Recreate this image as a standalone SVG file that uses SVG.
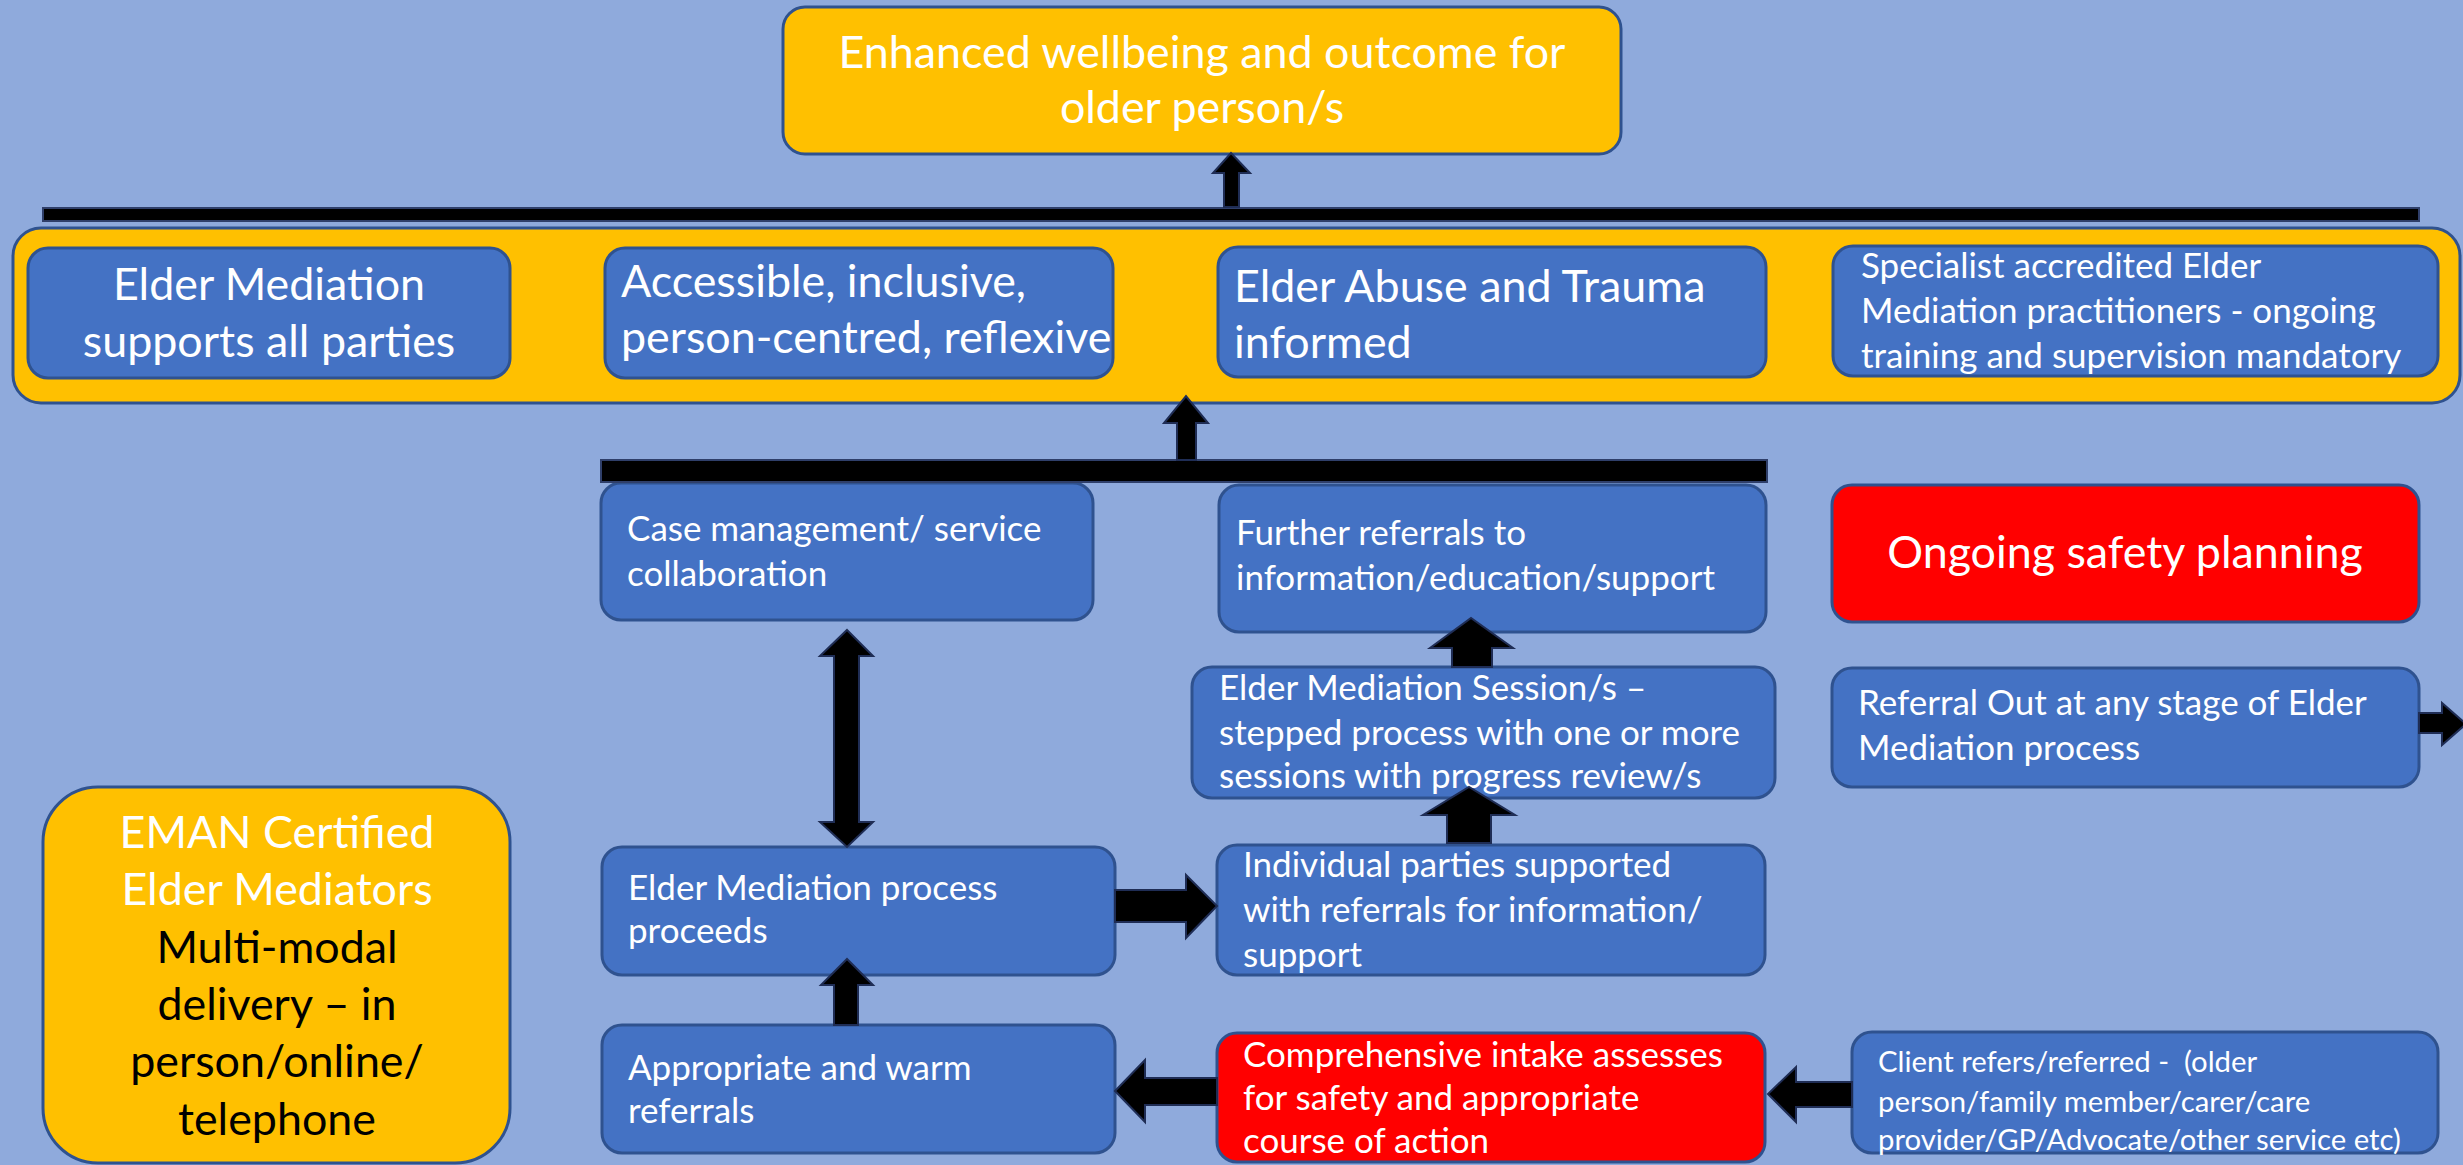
<svg xmlns="http://www.w3.org/2000/svg" width="2463" height="1165" viewBox="0 0 2463 1165">
  <style>
    .box { fill: #4472C4; stroke: #2F528F; stroke-width: 3; }
    .gold { fill: #FFC000; stroke: #2F528F; stroke-width: 3; }
    .red { fill: #FF0000; stroke: #2F528F; stroke-width: 3; }
    .bar { fill: #000000; stroke: #2F3F6A; stroke-width: 2; }
    .arrow { fill: #000000; stroke: #1F2D55; stroke-width: 2; stroke-linejoin: miter; }
    text { font-family: Lato, "Liberation Sans", sans-serif; fill: #FFFFFF; }
    .big { font-size: 44.8px; }
    .med { font-size: 35px; }
    .sm { font-size: 29.3px; }
    .mid { text-anchor: middle; }
    .dark { fill: #000000; }
  </style>

  <!-- page background -->
  <rect x="0" y="0" width="2463" height="1165" fill="#8FAADC"/>

  <!-- outcome at the top -->
  <g id="outcome">
    <rect class="gold" x="783" y="7" width="838" height="147" rx="22"/>
    <text class="big mid" x="1202" y="68">Enhanced wellbeing and outcome for</text>
    <text class="big mid" x="1202" y="123">older person/s</text>
  </g>

  <!-- principles band -->
  <g id="principles">
    <rect class="gold" x="13" y="228" width="2447" height="175" rx="28"/>
  </g>
  <g id="supports-all-parties">
    <rect class="box" x="28" y="248" width="482" height="130" rx="20"/>
    <text class="big mid" x="269" y="300">Elder Mediation</text>
    <text class="big mid" x="269" y="357">supports all parties</text>
  </g>
  <g id="accessible">
    <rect class="box" x="605" y="248" width="508" height="130" rx="20"/>
    <text class="big" x="621" y="297">Accessible, inclusive,</text>
    <text class="big" x="621" y="353">person-centred, reflexive</text>
  </g>
  <g id="trauma-informed">
    <rect class="box" x="1218" y="247" width="548" height="130" rx="20"/>
    <text class="big" x="1234" y="302">Elder Abuse and Trauma</text>
    <text class="big" x="1234" y="358">informed</text>
  </g>
  <g id="specialist-practitioners">
    <rect class="box" x="1833" y="246" width="605" height="130" rx="20"/>
    <text class="med" x="1861" y="278">Specialist accredited Elder</text>
    <text class="med" x="1861" y="323">Mediation practitioners - ongoing</text>
    <text class="med" x="1861" y="368">training and supervision mandatory</text>
  </g>

  <!-- process steps -->
  <g id="case-management">
    <rect class="box" x="601" y="483" width="492" height="137" rx="20"/>
    <text class="med" x="627" y="541">Case management/ service</text>
    <text class="med" x="627" y="586">collaboration</text>
  </g>
  <g id="further-referrals">
    <rect class="box" x="1219" y="485" width="547" height="147" rx="20"/>
    <text class="med" x="1236" y="545">Further referrals to</text>
    <text class="med" x="1236" y="590">information/education/support</text>
  </g>
  <g id="safety-planning">
    <rect class="red" x="1832" y="485" width="587" height="137" rx="20"/>
    <text class="big mid" x="2125" y="568">Ongoing safety planning</text>
  </g>
  <g id="mediation-sessions">
    <rect class="box" x="1192" y="667" width="583" height="131" rx="20"/>
    <text class="med" x="1219" y="700">Elder Mediation Session/s –</text>
    <text class="med" x="1219" y="745">stepped process with one or more</text>
    <text class="med" x="1219" y="788">sessions with progress review/s</text>
  </g>
  <g id="referral-out">
    <rect class="box" x="1832" y="668" width="587" height="119" rx="20"/>
    <text class="med" x="1858" y="715">Referral Out at any stage of Elder</text>
    <text class="med" x="1858" y="760">Mediation process</text>
  </g>
  <g id="process-proceeds">
    <rect class="box" x="602" y="847" width="513" height="128" rx="20"/>
    <text class="med" x="628" y="900">Elder Mediation process</text>
    <text class="med" x="628" y="943">proceeds</text>
  </g>
  <g id="individual-parties">
    <rect class="box" x="1217" y="845" width="548" height="130" rx="20"/>
    <text class="med" x="1243" y="877">Individual parties supported</text>
    <text class="med" x="1243" y="922">with referrals for information/</text>
    <text class="med" x="1243" y="967">support</text>
  </g>
  <g id="certified-mediators">
    <rect class="gold" x="43" y="787" width="467" height="376" rx="55"/>
    <text class="big mid" x="277" y="848">EMAN Certified</text>
    <text class="big mid" x="277" y="905">Elder Mediators</text>
    <text class="big mid dark" x="277" y="963">Multi-modal</text>
    <text class="big mid dark" x="277" y="1020">delivery – in</text>
    <text class="big mid dark" x="277" y="1077">person/online/</text>
    <text class="big mid dark" x="277" y="1135">telephone</text>
  </g>
  <g id="warm-referrals">
    <rect class="box" x="602" y="1025" width="513" height="128" rx="20"/>
    <text class="med" x="628" y="1080">Appropriate and warm</text>
    <text class="med" x="628" y="1123">referrals</text>
  </g>
  <g id="intake-assessment">
    <rect class="red" x="1217" y="1033" width="548" height="129" rx="20"/>
    <text class="med" x="1243" y="1067">Comprehensive intake assesses</text>
    <text class="med" x="1243" y="1110">for safety and appropriate</text>
    <text class="med" x="1243" y="1153">course of action</text>
  </g>
  <g id="client-referral">
    <rect class="box" x="1852" y="1032" width="586" height="121" rx="20"/>
    <text class="sm" x="1878" y="1072" xml:space="preserve">Client refers/referred -  (older</text>
    <text class="sm" x="1878" y="1112">person/family member/carer/care</text>
    <text class="sm" x="1878" y="1150">provider/GP/Advocate/other service etc)</text>
  </g>

  <!-- connectors: bars and block arrows -->
  <g id="connectors">
    <rect class="bar" x="43" y="208" width="2376" height="13"/>
    <rect class="bar" x="601" y="460" width="1166" height="22"/>
    <!-- bar to outcome -->
    <path class="arrow" d="M1224,207 L1224,173 L1213,173 L1231,153 L1250,173 L1239,173 L1239,207 Z"/>
    <!-- lower bar to principles band -->
    <path class="arrow" d="M1177,460 L1177,423 L1164,423 L1186,396 L1208,423 L1196,423 L1196,460 Z"/>
    <!-- case management <-> process proceeds -->
    <path class="arrow" d="M847,630 L873,656 L859,656 L859,822 L873,822 L847,847 L820,822 L834,822 L834,656 L820,656 Z"/>
    <!-- sessions to further referrals -->
    <path class="arrow" d="M1452,667 L1452,648 L1430,648 L1471,618 L1513,648 L1492,648 L1492,667 Z"/>
    <!-- individual parties to sessions -->
    <path class="arrow" d="M1447,843 L1447,815 L1423,815 L1469,787 L1515,815 L1491,815 L1491,843 Z"/>
    <!-- process proceeds to individual parties -->
    <path class="arrow" d="M1115,890 L1186,890 L1186,875 L1217,906 L1186,938 L1186,922 L1115,922 Z"/>
    <!-- warm referrals up to process proceeds -->
    <path class="arrow" d="M834,1025 L834,985 L821,985 L847,959 L873,985 L858,985 L858,1025 Z"/>
    <!-- intake to warm referrals -->
    <path class="arrow" d="M1217,1078 L1145,1078 L1145,1060 L1115,1091 L1145,1122 L1145,1105 L1217,1105 Z"/>
    <!-- client to intake -->
    <path class="arrow" d="M1852,1082 L1796,1082 L1796,1067 L1768,1094 L1796,1122 L1796,1107 L1852,1107 Z"/>
    <!-- referral out leaving the page -->
    <path class="arrow" d="M2419,713 L2442,713 L2442,703 L2466,724 L2442,745 L2442,733 L2419,733 Z"/>
  </g>
</svg>
